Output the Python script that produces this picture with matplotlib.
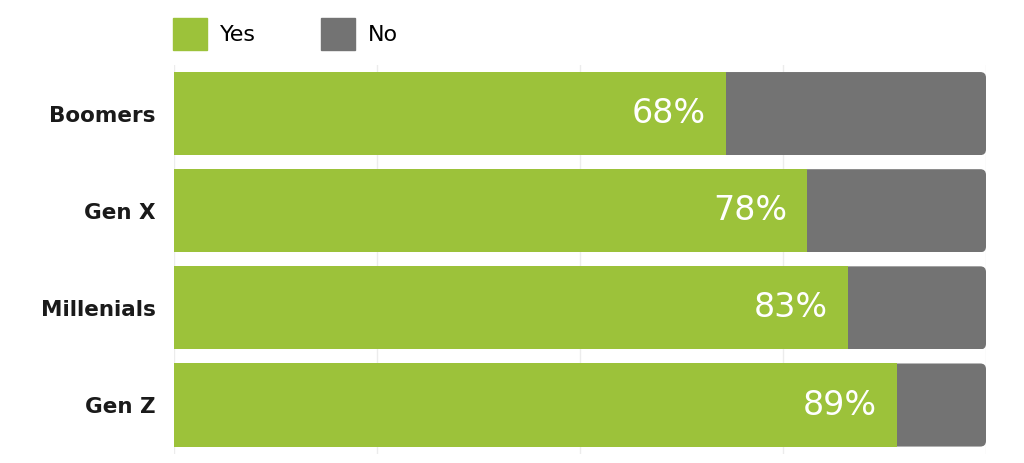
import matplotlib
matplotlib.use("Agg")
import matplotlib.pyplot as plt
from matplotlib.patches import FancyBboxPatch, Rectangle

categories = ["Boomers", "Gen X", "Millenials", "Gen Z"]
yes_vals = [68, 78, 83, 89]
no_vals = [32, 22, 17, 11]
series_names = ["Yes", "No"]

GREEN = "#9cc23a"
GRAY = "#737373"

plt.rcParams['font.family'] = ['DejaVu Sans']

fig = plt.figure(figsize=(10.24, 4.63), dpi=100)
ax = fig.add_axes([174/1024, 1 - 453.6/463, (986-174)/1024, (453.6-65)/463])

y = list(range(len(categories)))
h = 0.855
ax.barh(y, yes_vals, height=h, color=GREEN, zorder=3)
gray_bars = ax.barh(y, no_vals, left=yes_vals, height=h, color=GRAY, zorder=2)

# round the right end of each row
px_x = 812 / 100.0
px_y = (453.6 - 65) / 4.0
for bar in gray_bars:
    by = bar.get_y()
    clip = FancyBboxPatch((0, by), 100, h,
                          boxstyle="round,pad=0,rounding_size=0.7",
                          mutation_aspect=px_x / px_y,
                          transform=ax.transData, facecolor="none", edgecolor="none")
    ax.add_patch(clip)
    bar.set_clip_path(clip)

for yi, v in zip(y, yes_vals):
    ax.text(v - 2.5, yi, f"{v}%", ha="right", va="center", color="white",
            fontsize=24, fontweight="normal", zorder=4)

ax.set_xlim(0, 100)
ax.set_ylim(len(categories) - 0.5, -0.5)
ax.set_yticks(y)
ax.set_yticklabels(categories, fontsize=15.5, fontweight="semibold", color="#1a1a1a")
ax.tick_params(axis="y", length=0, pad=13)
ax.set_xticks([0, 25, 50, 75, 100])
ax.tick_params(axis="x", length=0, labelbottom=False)
ax.grid(axis="x", color="#ececec", linewidth=1, zorder=0)
for s in ax.spines.values():
    s.set_visible(False)

# legend
handles = [Rectangle((0, 0), 1, 1, color=GREEN), Rectangle((0, 0), 1, 1, color=GRAY)]
leg = fig.legend(handles, series_names, loc="upper left",
                 bbox_to_anchor=(173/1024, 1 - 18/463), ncol=2, frameon=False,
                 fontsize=16, handlelength=1.53, handleheight=1.86,
                 handletextpad=0.6, columnspacing=2.9,
                 borderpad=0, borderaxespad=0)

fig.savefig("out.png", dpi=100)
